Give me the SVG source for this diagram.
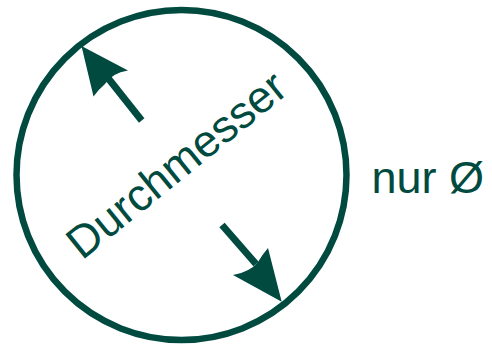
<svg xmlns="http://www.w3.org/2000/svg" width="492" height="349" viewBox="0 0 492 349">
<style>
.c{fill:none;stroke:#004a40;stroke-width:6.5}
.s{stroke:#004a40;stroke-width:7;fill:none}
.h{fill:#004a40;stroke:none}
.t{font-family:"Liberation Sans",Arial,sans-serif;font-size:45px;fill:#004a40}
</style>
<rect width="492" height="349" fill="#ffffff"/>
<g id="circle">
<circle class="c" cx="181.5" cy="175" r="165"/>
</g>
<g id="connectors">
<line class="s" x1="141.7" y1="120.5" x2="108" y2="78"/>
<path class="h" d="M81.5,46 L128,70.5 Q112,73 105,84 Q99,89 93.5,96.5 Z"/>
<line class="s" x1="222" y1="225" x2="256" y2="264"/>
<path class="h" d="M281.7,301.7 L233,275 Q250,272 258,262 Q262,255 268,248 Z"/>
</g>
<g id="label">
<text class="t" x="186" y="176.5" text-anchor="middle" transform="rotate(-39 186 176.5)">Durchmesser</text>
</g>
<g id="note">
<text class="t" x="371.5" y="192.7">nur Ø</text>
</g>
</svg>
